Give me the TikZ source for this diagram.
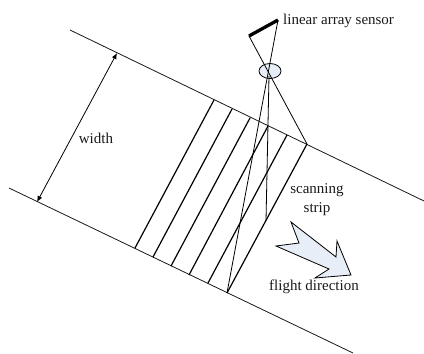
\documentclass[tikz,border=0pt]{standalone}
\usepackage{fontspec}
\setmainfont{Liberation Serif}
\usetikzlibrary{arrows.meta,shapes.geometric}
\tikzset{
  edgeline/.style={line width=0.8pt,black!90},
  stripline/.style={line width=1.2pt,black},
  rayline/.style={line width=0.8pt,black},
  lbl/.style={inner sep=0pt,font=\fontsize{15}{17}\selectfont,text=black!90},
}
\definecolor{palefill}{HTML}{E8EEF8}
\begin{document}
\begin{tikzpicture}[x=1pt,y=-1pt]
\useasboundingbox (0,0) rectangle (424,354);
\coordinate (ua) at (70,30);
\coordinate (ub) at (424,201);
\coordinate (la) at (9,188);
\coordinate (lb) at (353,353);
\draw[edgeline] (ua) -- (ub);
\draw[edgeline] (la) -- (lb);
\coordinate (t1) at (214,100);
\coordinate (t2) at (232,109);
\coordinate (t3) at (250,118);
\coordinate (t4) at (268,126);
\coordinate (t5) at (287,135);
\coordinate (t6) at (307,144);
\coordinate (b1) at (135,248);
\coordinate (b2) at (153,257);
\coordinate (b3) at (171,266);
\coordinate (b4) at (189,275);
\coordinate (b5) at (208,283);
\coordinate (b6) at (227,293);
\foreach \i in {1,...,6} \draw[stripline] (t\i) -- (b\i);
\coordinate (sa) at (249,36);
\coordinate (sb) at (278,20);
\coordinate (lensbase) at (269,76);
\coordinate (mid) at (266,221);
\node[draw=black,line width=0.8pt,fill=palefill,ellipse,minimum width=22pt,minimum height=15pt,inner sep=0pt] (lens) at (270,71) {};
\draw[line width=3.3pt] (sa) -- (sb);
\draw[rayline] (sa) -- (t6);
\draw[rayline] (sb) -- (b6);
\draw[rayline] (lensbase) -- (mid);
\draw[rayline,{Latex[length=6pt,width=5pt]}-{Latex[length=6pt,width=5pt]}] (117,53) -- (37,202);
\draw[line width=0.8pt,fill=palefill,line join=miter] (291,222) -- (299,243) -- (276,246) -- (329,269) -- (315,278) -- (351,275) -- (337,241) -- (336,257) -- cycle;
\node[lbl,anchor=west] (sensorlabel) at (283,21) {linear array sensor};
\node[lbl] (widthlabel) at (96,138) {width};
\node[lbl] (scan1) at (317,190) {scanning};
\node[lbl] (scan2) at (317,209) {strip};
\node[lbl] (flight) at (314,287) {flight direction};
\end{tikzpicture}
\end{document}
